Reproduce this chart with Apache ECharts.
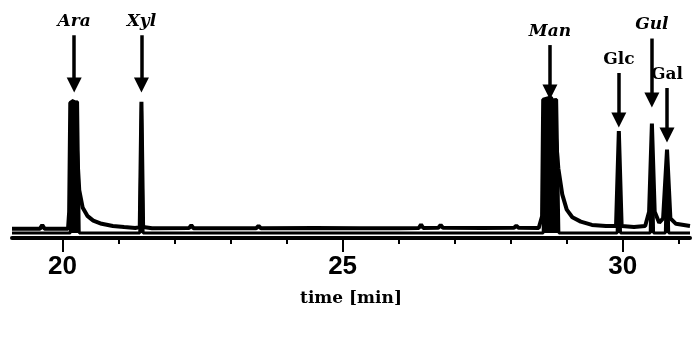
<!DOCTYPE html>
<html>
<head>
<meta charset="utf-8">
<script src="https://cdn.jsdelivr.net/npm/echarts@6/dist/echarts.min.js"></script>
<style>
  html, body { margin: 0; padding: 0; background: #fff; }
  #chart { width: 695px; height: 337px; }
</style>
</head>
<body>
<div id="chart"></div>
<script>
// trace with tailing (upper)
const timeA = [19.1, 19.6, 19.64, 19.68, 20.1, 20.12, 20.14, 20.2, 20.25, 20.3, 20.36, 20.45, 20.55, 20.7, 20.9, 21.1, 21.3,
  21.38, 21.41, 21.44, 21.6, 22.26, 22.3, 22.34, 23.46, 23.5, 23.54, 24.5, 25.3, 26.0, 26.36, 26.4, 26.44, 26.71, 26.75, 26.79,
  27.5, 28.06, 28.1, 28.14, 28.5, 28.56, 28.58, 28.72, 28.78, 28.85, 28.92, 29.0, 29.1, 29.25, 29.45, 29.7, 29.88, 29.93, 29.98,
  30.2, 30.4, 30.47, 30.52, 30.57, 30.65, 30.72, 30.79, 30.85, 30.95, 31.2];
const signalA = [4.3, 4.3, 6, 4.3, 4.3, 12, 62, 63, 45, 22, 14, 10, 8, 6.5, 5.5, 5, 4.6,
  5, 62.5, 5, 4.5, 4.6, 5.8, 4.5, 4.5, 5.6, 4.5, 4.6, 4.5, 4.5, 4.6, 6.2, 4.6, 4.7, 6, 4.7,
  4.6, 4.7, 5.6, 4.7, 4.6, 10, 63.5, 64.5, 55, 32, 20, 13, 9.5, 7.5, 6, 5.5, 5.5, 49, 5.5,
  5, 5.5, 12, 52.5, 12, 7, 9, 40.5, 9, 6.5, 5.5];

// flat trace (lower)
const timeB = [19.1, 20.14, 20.16, 20.27, 20.3, 21.38, 21.41, 21.44, 28.58, 28.6, 28.82, 28.86,
  29.9, 29.93, 29.96, 30.49, 30.52, 30.55, 30.76, 30.79, 30.82, 31.2];
const signalB = [2.3, 2.3, 62, 62.5, 2.3, 2.3, 62, 2.3, 2.3, 63, 63.5, 2.3,
  2.3, 48, 2.3, 2.3, 52, 2.3, 2.3, 40, 2.3, 2.3];

// peak annotations
const peakNames = ['Ara', 'Xyl', 'Man', 'Glc', 'Gul', 'Gal'];
const peakTimes = [20.21, 21.41, 28.7, 29.93, 30.52, 30.79];
const arrowFrom = [93, 93, 88.5, 75.7, 91.5, 68.8];
const arrowTo = [70.2, 70.2, 67, 54.1, 63.3, 47.2];
const italicNames = ['Ara', 'Xyl', 'Man', 'Gul'];

const majorTicks = [20, 25, 30];
const minorTicks = [21, 22, 23, 24, 26, 27, 28, 29, 31];

const chart = echarts.init(document.getElementById('chart'));

const arrows = peakNames.map((name, i) => {
  const italic = italicNames.includes(name);
  return [
    {
      name: name,
      coord: [peakTimes[i], arrowFrom[i]],
      label: {
        fontStyle: italic ? 'italic' : 'normal',
        fontFamily: 'DejaVu Serif',
        fontWeight: 'bold',
        fontSize: 17
      }
    },
    { coord: [peakTimes[i], arrowTo[i]] }
  ];
});

chart.setOption({
  animation: false,
  backgroundColor: '#fff',
  grid: { left: 12, right: 5, top: 20, bottom: 99 },
  xAxis: [
    {
      type: 'value',
      min: 19.1,
      max: 31.2,
      axisLine: { show: true, lineStyle: { color: '#000', width: 4 } },
      axisTick: { show: true, customValues: majorTicks, length: 14, lineStyle: { color: '#000', width: 2 } },
      axisLabel: {
        customValues: majorTicks,
        color: '#000',
        fontFamily: 'Liberation Sans',
        fontWeight: 'bold',
        fontSize: 26,
        margin: 16
      },
      splitLine: { show: false },
      name: 'time [min]',
      nameLocation: 'middle',
      nameGap: 52,
      nameTextStyle: { color: '#000', fontFamily: 'DejaVu Serif', fontWeight: 'bold', fontSize: 17 }
    },
    {
      type: 'value',
      min: 19.1,
      max: 31.2,
      position: 'bottom',
      axisLine: { show: false },
      axisTick: { show: true, customValues: minorTicks, length: 6, lineStyle: { color: '#000', width: 2 } },
      axisLabel: { show: false },
      splitLine: { show: false }
    }
  ],
  yAxis: { type: 'value', min: 0, max: 100, show: false },
  series: [
    {
      type: 'line',
      data: timeB.map((t, i) => [t, signalB[i]]),
      symbol: 'none',
      lineStyle: { color: '#000', width: 3 },
      areaStyle: { color: '#000', opacity: 1, origin: 2.3 }
    },
    {
      type: 'line',
      data: timeA.map((t, i) => [t, signalA[i]]),
      symbol: 'none',
      lineStyle: { color: '#000', width: 4 },
      markLine: {
        silent: true,
        symbol: ['none', 'triangle'],
        symbolSize: [15, 15],
        lineStyle: { color: '#000', width: 3.5, type: 'solid' },
        label: {
          show: true,
          position: 'start',
          formatter: '{b}',
          color: '#000',
          distance: 5
        },
        data: arrows
      }
    }
  ]
});
</script>
</body>
</html>
